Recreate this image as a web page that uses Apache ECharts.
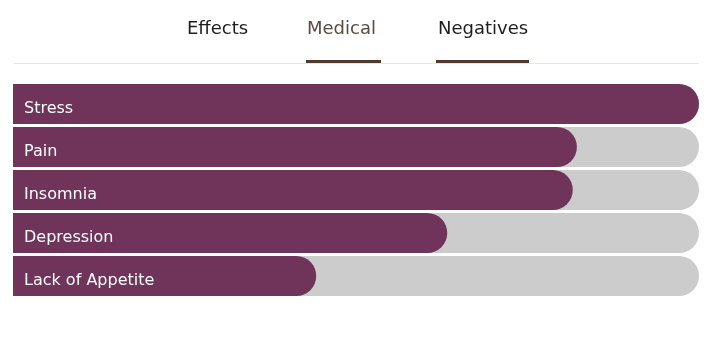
<!DOCTYPE html>
<html>
<head>
<meta charset="utf-8">
<script src="https://cdn.jsdelivr.net/npm/echarts@6/dist/echarts.min.js"></script>
<style>
  html, body { margin: 0; padding: 0; background: #ffffff; }
  #chart { width: 715px; height: 343px; }
</style>
</head>
<body>
<div id="chart"></div>
<script>
// Conditions treated, in display order
var conditions = ['Stress', 'Pain', 'Insomnia', 'Depression', 'Lack of Appetite'];
// Share of reports per condition (percent of the top entry)
var shares = [100, 82.2, 81.6, 63.3, 44.2];
// Tab labels above the chart
var tabs = ['Effects', 'Medical', 'Negatives'];

var BAR_COLOR = '#70345b';
var TRACK_COLOR = '#cccccc';
var FONT = '"DejaVu Sans", sans-serif';

var chart = echarts.init(document.getElementById('chart'), null, { renderer: 'canvas' });

var tabX = [187, 307, 438];
var tabColors = ['#1e1e1e', '#5b4a40', '#1e1e1e'];
var tabGraphics = tabs.map(function (t, i) {
  return {
    type: 'text',
    x: tabX[i],
    y: 29.5,
    style: {
      text: t,
      fontFamily: FONT,
      fontSize: 18,
      verticalAlign: 'middle',
      align: 'left',
      fill: tabColors[i]
    }
  };
});

chart.setOption({
  animation: false,
  grid: { left: 13, right: 16, top: 82.5, height: 215, containLabel: false },
  xAxis: { type: 'value', min: 0, max: 100, show: false },
  yAxis: {
    type: 'category',
    data: conditions,
    inverse: true,
    show: false
  },
  graphic: tabGraphics.concat([
    { type: 'rect', shape: { x: 14, y: 63, width: 685, height: 1 }, style: { fill: '#e6e6e6' } },
    { type: 'rect', shape: { x: 306, y: 60, width: 75, height: 3 }, style: { fill: '#4f3a2d' } },
    { type: 'rect', shape: { x: 436, y: 60, width: 93, height: 3 }, style: { fill: '#4f3a2d' } }
  ]),
  series: [{
    type: 'bar',
    data: shares,
    barWidth: 40,
    showBackground: true,
    backgroundStyle: { color: TRACK_COLOR, borderRadius: [0, 20, 20, 0] },
    itemStyle: { color: BAR_COLOR, borderRadius: [0, 20, 20, 0] },
    label: {
      show: true,
      position: 'insideLeft',
      distance: 11,
      offset: [0, 5],
      formatter: function (p) { return conditions[p.dataIndex]; },
      color: '#ffffff',
      fontFamily: FONT,
      fontSize: 16
    }
  }]
});
</script>
</body>
</html>
